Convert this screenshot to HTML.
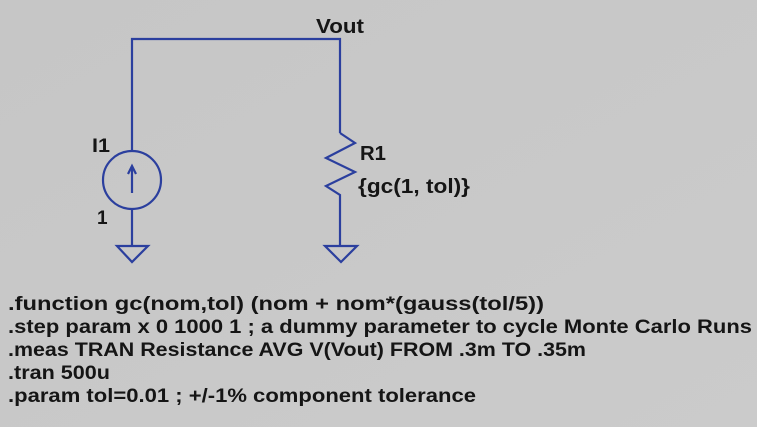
<!DOCTYPE html>
<html><head><meta charset="utf-8"><style>
html,body{margin:0;padding:0;background:#c9c9c9;}
svg{display:block}
text{font-family:"Liberation Sans",Arial,sans-serif;font-weight:bold;fill:#151515}
</style></head><body>
<svg width="757" height="427" viewBox="0 0 757 427" xmlns="http://www.w3.org/2000/svg">
<defs><linearGradient id="g" x1="0" y1="0" x2="1" y2="1"><stop offset="0" stop-color="#c6c6c6"/><stop offset="1" stop-color="#cbcbcb"/></linearGradient></defs>
<rect width="757" height="427" fill="url(#g)"/>
<g stroke="#2b3f9e" stroke-width="2.2" fill="none">
<polyline points="132,151 132,39 340,39 340,133"/>
<circle cx="132" cy="180" r="29"/>
<line x1="132" y1="193" x2="132" y2="167"/>
<polyline points="128,174 132,166 136,174"/>
<line x1="132" y1="209" x2="132" y2="246"/>
<polygon points="117,246 148,246 132,262"/>
<polyline points="340,133 355,143 326,158 355,172 326,186 340,195 340,246"/>
<polygon points="325,246 357,246 341,262"/>
</g>
<text x="316" y="33" font-size="20" textLength="48" lengthAdjust="spacingAndGlyphs">Vout</text>
<text x="92" y="152" font-size="19" textLength="18" lengthAdjust="spacingAndGlyphs">I1</text>
<text x="97" y="224" font-size="19">1</text>
<text x="360" y="160" font-size="20" textLength="26" lengthAdjust="spacingAndGlyphs">R1</text>
<text x="358" y="193" font-size="20" textLength="112" lengthAdjust="spacingAndGlyphs">{gc(1, tol)}</text>
<g font-size="19">
<text x="8" y="310" textLength="536" lengthAdjust="spacingAndGlyphs">.function gc(nom,tol) (nom + nom*(gauss(tol/5))</text>
<text x="8" y="333" textLength="744" lengthAdjust="spacingAndGlyphs">.step param x 0 1000 1 ; a dummy parameter to cycle Monte Carlo Runs</text>
<text x="8" y="356" textLength="578" lengthAdjust="spacingAndGlyphs">.meas TRAN Resistance AVG V(Vout) FROM .3m TO .35m</text>
<text x="8" y="379" textLength="102" lengthAdjust="spacingAndGlyphs">.tran 500u</text>
<text x="8" y="402" textLength="468" lengthAdjust="spacingAndGlyphs">.param tol=0.01 ; +/-1% component tolerance</text>
</g>
</svg>
</body></html>
